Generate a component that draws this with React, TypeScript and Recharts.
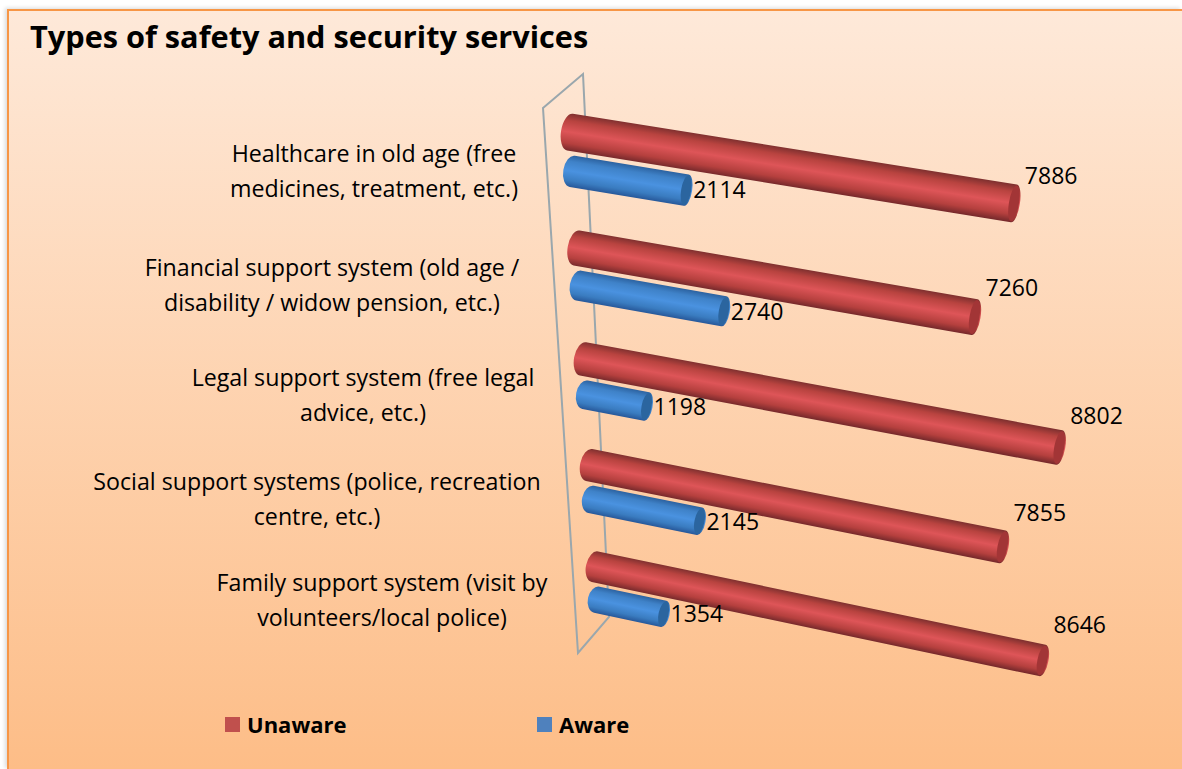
import React from 'react';
import { BarChart, Bar, XAxis, YAxis, Legend, LabelList, Customized } from 'recharts';

const categories = [
  'Healthcare in old age (free\nmedicines, treatment, etc.)',
  'Financial support system (old age /\ndisability / widow pension, etc.)',
  'Legal support system (free legal\nadvice, etc.)',
  'Social support systems (police, recreation\ncentre, etc.)',
  'Family support system (visit by\nvolunteers/local police)',
];
const unawareValues = [7886, 7260, 8802, 7855, 8646];
const awareValues = [2114, 2740, 1198, 2145, 1354];

const chartData = categories.map((category, i) => ({
  category,
  unaware: unawareValues[i],
  aware: awareValues[i],
}));

// layout only: centre of each wrapped category label
const labelCentres = [374, 332, 363, 317, 382];
const FONT = '"Open Sans", sans-serif';
const LEGEND_HEIGHT = 30;

const PLOT = { left: 560, top: 100, width: 580, height: 600 };
// where the flat plot rectangle lands on screen (3D tilt of the original)
const QUAD = [
  [567.7, 92.3],
  [1142.8, 182.1],
  [1113, 743.7],
  [598.7, 632.2],
];

const homography = (() => {
  const [[x0, y0], [x1, y1], [x2, y2], [x3, y3]] = QUAD;
  const sx = x0 - x1 + x2 - x3;
  const sy = y0 - y1 + y2 - y3;
  const dx1 = x1 - x2;
  const dx2 = x3 - x2;
  const dy1 = y1 - y2;
  const dy2 = y3 - y2;
  const det = dx1 * dy2 - dx2 * dy1;
  const g = (sx * dy2 - dx2 * sy) / det;
  const h = (dx1 * sy - sx * dy1) / det;
  return {
    a: x1 - x0 + g * x1,
    b: x3 - x0 + h * x3,
    c: x0,
    d: y1 - y0 + g * y1,
    e: y3 - y0 + h * y3,
    f: y0,
    g,
    h,
  };
})();

const project = (px: number, py: number) => {
  const s = (px - PLOT.left) / PLOT.width;
  const t = (py - PLOT.top) / PLOT.height;
  const m = homography;
  const w = m.g * s + m.h * t + 1;
  return { x: (m.a * s + m.b * t + m.c) / w, y: (m.d * s + m.e * t + m.f) / w };
};

const TONES: Record<string, { stops: string[]; cap: string; scale: number }> = {
  unaware: { stops: ['#7f302f', '#b8433f', '#de5558', '#b5403e', '#76292b'], cap: '#a23536', scale: 1.04 },
  aware: { stops: ['#2c62a0', '#3f82c8', '#4a92e0', '#3a7cc0', '#27589a'], cap: '#2b659f', scale: 0.9 },
};

const Cylinder = (props: any) => {
  const { x, y, width, height, index, tone } = props;
  const look = TONES[tone];
  const c0 = project(x, y + height / 2);
  const c1 = project(x + width, y + height / 2);
  const r0 = (Math.hypot(project(x, y).x - project(x, y + height).x, project(x, y).y - project(x, y + height).y) / 2) * look.scale;
  const r1 =
    (Math.hypot(project(x + width, y).x - project(x + width, y + height).x, project(x + width, y).y - project(x + width, y + height).y) / 2) *
    look.scale;
  const dx = c1.x - c0.x;
  const dy = c1.y - c0.y;
  const len = Math.hypot(dx, dy);
  const nx = -dy / len;
  const ny = dx / len;
  const angle = (Math.atan2(dy, dx) * 180) / Math.PI;
  const id = `cyl-${tone}-${index}`;
  const path = [
    `M${c0.x - nx * r0} ${c0.y - ny * r0}`,
    `L${c1.x - nx * r1} ${c1.y - ny * r1}`,
    `A6 ${r1} ${angle} 0 1 ${c1.x + nx * r1} ${c1.y + ny * r1}`,
    `L${c0.x + nx * r0} ${c0.y + ny * r0}`,
    `A9 ${r0} ${angle} 0 1 ${c0.x - nx * r0} ${c0.y - ny * r0}`,
    'Z',
  ].join(' ');
  const mx = (c0.x + c1.x) / 2;
  const my = (c0.y + c1.y) / 2;
  const rm = (r0 + r1) / 2;
  return (
    <g>
      <defs>
        <linearGradient id={id} gradientUnits="userSpaceOnUse" x1={mx - nx * rm} y1={my - ny * rm} x2={mx + nx * rm} y2={my + ny * rm}>
          {look.stops.map((c, i) => (
            <stop key={i} offset={[0, 0.2, 0.5, 0.8, 1][i]} stopColor={c} />
          ))}
        </linearGradient>
      </defs>
      <path d={path} fill={`url(#${id})`} />
      <ellipse cx={c1.x} cy={c1.y} rx={5} ry={r1 - 1} fill={look.cap} transform={`rotate(${angle} ${c1.x} ${c1.y})`} />
    </g>
  );
};

const ValueLabel = (props: any) => {
  const { x, y, width, height, value, tone } = props;
  const c0 = project(x, y + height / 2);
  const c1 = project(x + width, y + height / 2);
  const slope = (c1.y - c0.y) / (c1.x - c0.x);
  const lift = tone === 'unaware' ? slope * 170 : 0;
  return (
    <text x={c1.x + (tone === 'unaware' ? 11 : 7)} y={c1.y - lift} dy="0.36em" fontSize={23} fontFamily={FONT} fill="#000">
      {value}
    </text>
  );
};

const CategoryTick = (props: any) => {
  const { y, payload, index } = props;
  const cy = project(PLOT.left, y + 20).y;
  const lines = String(payload.value).split('\n');
  return (
    <text x={labelCentres[index]} textAnchor="middle" fontSize={23.2} fontFamily={FONT} fill="#000">
      {lines.map((line, i) => (
        <tspan key={i} x={labelCentres[index]} y={cy + (i - (lines.length - 1) / 2) * 35} dy="0.36em">
          {line}
        </tspan>
      ))}
    </text>
  );
};

const BackWall = () => (
  <polygon points="543,108 583,74 609,617 578,653" fill="none" stroke="#9aa7ad" strokeWidth={2} />
);

const LegendRow = ({ payload }: any) => (
  <div style={{ position: 'relative', height: LEGEND_HEIGHT }}>
    {(payload || []).map((entry: any) => (
      <div
        key={entry.value}
        style={{ position: 'absolute', left: entry.value === 'Unaware' ? 225 : 537, top: 0, display: 'flex', alignItems: 'center', height: LEGEND_HEIGHT }}
      >
        <span style={{ width: 15, height: 15, background: entry.color, marginRight: 7 }} />
        <span style={{ fontFamily: FONT, fontWeight: 700, fontSize: 22, color: '#000' }}>{entry.value}</span>
      </div>
    ))}
  </div>
);

export default function App() {
  return (
    <div style={{ position: 'absolute', left: 0, top: 0, width: 1182, height: 769, background: '#fff', overflow: 'hidden' }}>
      <div
        style={{
          position: 'absolute',
          left: 7,
          top: 9,
          right: 0,
          bottom: 0,
          borderLeft: '2px solid #f79646',
          borderTop: '2px solid #f79646',
          background: 'linear-gradient(180deg, #fee9d9 0%, #fdbd87 100%)',
          boxShadow: '-2px -1px 4px rgba(0,0,0,0.15)',
        }}
      />
      <div style={{ position: 'absolute', left: 30, top: 15, fontFamily: FONT, fontWeight: 700, fontSize: 30.7, color: '#000', whiteSpace: 'nowrap' }}>
        Types of safety and security services
      </div>
      <div style={{ position: 'absolute', left: 0, top: 0 }}>
        <BarChart
          width={1182}
          height={769}
          data={chartData}
          layout="vertical"
          margin={{ top: PLOT.top - LEGEND_HEIGHT, right: 1182 - PLOT.left - PLOT.width, bottom: 769 - PLOT.top - PLOT.height, left: 0 }}
          barSize={36}
          barGap={4}
        >
          <Customized component={BackWall} />
          <XAxis type="number" domain={[0, 10000]} hide />
          <YAxis type="category" dataKey="category" width={PLOT.left} axisLine={false} tickLine={false} interval={0} tick={<CategoryTick />} />
          <Bar dataKey="unaware" name="Unaware" fill="#c0504d" isAnimationActive={false} shape={<Cylinder tone="unaware" />}>
            <LabelList dataKey="unaware" content={<ValueLabel tone="unaware" />} />
          </Bar>
          <Bar dataKey="aware" name="Aware" fill="#4f81bd" isAnimationActive={false} shape={<Cylinder tone="aware" />}>
            <LabelList dataKey="aware" content={<ValueLabel tone="aware" />} />
          </Bar>
          <Legend content={<LegendRow />} verticalAlign="top" wrapperStyle={{ position: 'absolute', left: 0, top: 709, width: 1182, height: LEGEND_HEIGHT }} />
        </BarChart>
      </div>
    </div>
  );
}
